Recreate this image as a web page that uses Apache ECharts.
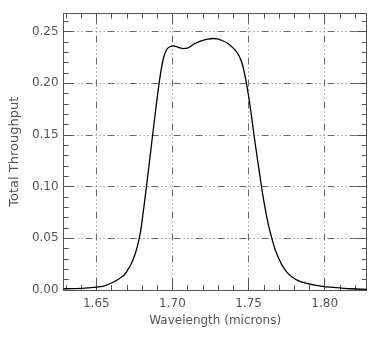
<!DOCTYPE html>
<html>
<head>
<meta charset="utf-8">
<script src="https://cdn.jsdelivr.net/npm/echarts@6/dist/echarts.min.js"></script>
<style>
html,body{margin:0;padding:0;background:#fff;}
#chart{width:374px;height:340px;}
</style>
</head>
<body>
<div id="chart"></div>
<script>
// Wavelength (microns)
const wavelength = [1.6285,1.6403,1.6500,1.6553,1.6618,1.6650,1.6683,1.6704,1.6726,1.6748,
  1.6769,1.6791,1.6812,1.6834,1.6856,1.6877,1.6898,1.6920,1.6942,1.6963,
  1.6985,1.7006,1.7028,1.7050,1.7071,1.7103,1.7136,1.7168,1.7200,1.7233,
  1.7265,1.7297,1.7330,1.7362,1.7394,1.7416,1.7438,1.7459,1.7481,1.7503,
  1.7524,1.7545,1.7567,1.7588,1.7610,1.7632,1.7653,1.7675,1.7697,1.7718,
  1.7750,1.7783,1.7834,1.7890,1.7944,1.7998,1.8084,1.8171,1.8276];
// Total throughput
const throughput = [0.0012,0.0015,0.0027,0.0040,0.0080,0.0110,0.0145,0.0190,0.0245,0.0320,
  0.0420,0.0570,0.0800,0.1060,0.1330,0.1590,0.1840,0.2080,0.2250,0.2330,
  0.2357,0.2363,0.2355,0.2343,0.2336,0.2343,0.2376,0.2398,0.2415,0.2428,
  0.2434,0.2430,0.2412,0.2388,0.2348,0.2315,0.2265,0.2185,0.2040,0.1850,
  0.1630,0.1400,0.1180,0.0970,0.0780,0.0620,0.0500,0.0390,0.0310,0.0245,
  0.0175,0.0129,0.0085,0.0062,0.0045,0.0032,0.0022,0.0012,0.0007];
const xMajorTicks = [1.65, 1.70, 1.75, 1.80];
const yMajorTicks = [0.00, 0.05, 0.10, 0.15, 0.20, 0.25];
const xMin = 1.6285, xMax = 1.8276;
const yMin = 0, yMax = 0.2676;

const xMinorTicks = [];
for (let i = 163; i <= 182; i++) xMinorTicks.push(i / 100);
const yMinorTicks = [];
for (let i = 0; i <= 26; i++) yMinorTicks.push(i / 100);

const FONT = 'DejaVu Sans';
const AXC = '#555';
const gridStyle = { color: '#6a6a6a', width: 1, type: [7, 3, 1, 3, 1, 3, 1, 3] };

function xAx(pos, minor, main) {
  return {
    type: 'value', min: xMin, max: xMax, position: pos,
    axisLine: { show: !minor, onZero: false, lineStyle: { color: AXC, width: 1 } },
    axisTick: { show: true, inside: true, length: minor ? 5 : 10,
      customValues: minor ? xMinorTicks : xMajorTicks, lineStyle: { color: AXC, width: 1 } },
    axisLabel: main ? { show: true, customValues: xMajorTicks, formatter: v => v.toFixed(2),
      margin: 8, color: AXC, fontFamily: FONT, fontSize: 12 } : { show: false },
    splitLine: { show: !!main, lineStyle: gridStyle },
    name: main ? 'Wavelength (microns)' : '',
    nameLocation: 'middle', nameGap: 25,
    nameTextStyle: { color: AXC, fontFamily: FONT, fontSize: 12 }
  };
}
function yAx(pos, minor, main) {
  return {
    type: 'value', min: yMin, max: yMax, position: pos,
    axisLine: { show: !minor, onZero: false, lineStyle: { color: AXC, width: 1 } },
    axisTick: { show: true, inside: true, length: minor ? 5 : 10,
      customValues: minor ? yMinorTicks : yMajorTicks, lineStyle: { color: AXC, width: 1 } },
    axisLabel: main ? { show: true, customValues: yMajorTicks, formatter: v => v.toFixed(2),
      margin: 5, color: AXC, fontFamily: FONT, fontSize: 12 } : { show: false },
    splitLine: { show: !!main, lineStyle: gridStyle },
    name: main ? 'Total Throughput' : '',
    nameLocation: 'middle', nameGap: 42,
    nameTextStyle: { color: AXC, fontFamily: FONT, fontSize: 13 }
  };
}

const chart = echarts.init(document.getElementById('chart'), null, { renderer: 'canvas' });
chart.setOption({
  animation: false,
  backgroundColor: '#fff',
  grid: { left: 58.5, top: 13.5, right: 7.3, bottom: 50, containLabel: false },
  xAxis: [xAx('bottom', false, true), xAx('bottom', true, false), xAx('top', false, false), xAx('top', true, false)],
  yAxis: [yAx('left', false, true), yAx('left', true, false), yAx('right', false, false), yAx('right', true, false)],
  series: [{
    type: 'line',
    xAxisIndex: 0, yAxisIndex: 0,
    data: wavelength.map((w, i) => [w, throughput[i]]),
    showSymbol: false,
    smooth: 0.25,
    lineStyle: { color: '#000', width: 1.3 }
  }]
});
</script>
</body>
</html>
